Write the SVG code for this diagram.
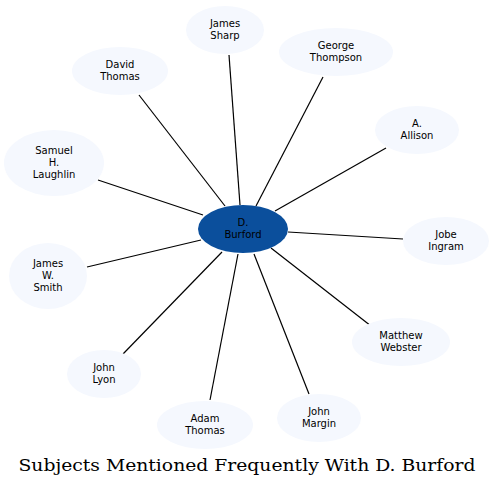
<svg xmlns="http://www.w3.org/2000/svg" width="495" height="486" viewBox="0 0 495 486">
<style>
.n ellipse{fill:#f5f8fe;stroke:none}
.c ellipse{fill:#0b4f9c;stroke:none}
text{font-family:"DejaVu Sans",sans-serif;font-size:10px;fill:#000;text-anchor:middle}
.t{font-family:"DejaVu Serif",serif;font-size:16.5px}
.e line{stroke:#000;stroke-width:1.2}
</style>
<rect width="495" height="486" fill="#fff"/>
<g id="edges" class="e">
<line x1="229" y1="55" x2="240" y2="205"/>
<line x1="323" y1="77" x2="256" y2="206"/>
<line x1="139" y1="95" x2="225" y2="206"/>
<line x1="386" y1="148" x2="275" y2="211"/>
<line x1="98" y1="180" x2="203" y2="215"/>
<line x1="403" y1="239" x2="288" y2="232"/>
<line x1="87" y1="267" x2="201" y2="240"/>
<line x1="371" y1="326" x2="271" y2="248"/>
<line x1="123" y1="354" x2="222" y2="252"/>
<line x1="210" y1="400" x2="238" y2="254"/>
<line x1="309" y1="394" x2="254" y2="254"/>
</g>
<g id="burford" class="c"><ellipse cx="243" cy="229" rx="45" ry="24"/><text x="243" y="226">D.</text><text x="243" y="238">Burford</text></g>
<g id="james_sharp" class="n"><ellipse cx="225" cy="30" rx="39" ry="24"/><text x="225" y="27">James</text><text x="225" y="39">Sharp</text></g>
<g id="george_thompson" class="n"><ellipse cx="336" cy="52" rx="57" ry="24"/><text x="336" y="49">George</text><text x="336" y="61">Thompson</text></g>
<g id="david_thomas" class="n"><ellipse cx="120" cy="71" rx="48" ry="24"/><text x="120" y="68">David</text><text x="120" y="80">Thomas</text></g>
<g id="a_allison" class="n"><ellipse cx="417" cy="130" rx="42" ry="24"/><text x="417" y="127">A.</text><text x="417" y="139">Allison</text></g>
<g id="samuel_laughlin" class="n"><ellipse cx="54" cy="163" rx="50" ry="33"/><text x="54" y="154">Samuel</text><text x="54" y="166">H.</text><text x="54" y="178">Laughlin</text></g>
<g id="jobe_ingram" class="n"><ellipse cx="446" cy="241" rx="43" ry="24"/><text x="446" y="238">Jobe</text><text x="446" y="250">Ingram</text></g>
<g id="james_smith" class="n"><ellipse cx="48" cy="276" rx="39" ry="33"/><text x="48" y="267">James</text><text x="48" y="279">W.</text><text x="48" y="291">Smith</text></g>
<g id="matthew_webster" class="n"><ellipse cx="401" cy="342" rx="49" ry="24"/><text x="401" y="339">Matthew</text><text x="401" y="351">Webster</text></g>
<g id="john_lyon" class="n"><ellipse cx="104" cy="374" rx="37" ry="24"/><text x="104" y="371">John</text><text x="104" y="383">Lyon</text></g>
<g id="adam_thomas" class="n"><ellipse cx="205" cy="425" rx="48" ry="24"/><text x="205" y="422">Adam</text><text x="205" y="434">Thomas</text></g>
<g id="john_margin" class="n"><ellipse cx="319" cy="418" rx="42" ry="24"/><text x="319" y="415">John</text><text x="319" y="427">Margin</text></g>
<text class="t" x="247" y="471" textLength="457" lengthAdjust="spacingAndGlyphs">Subjects Mentioned Frequently With D. Burford</text>
</svg>
